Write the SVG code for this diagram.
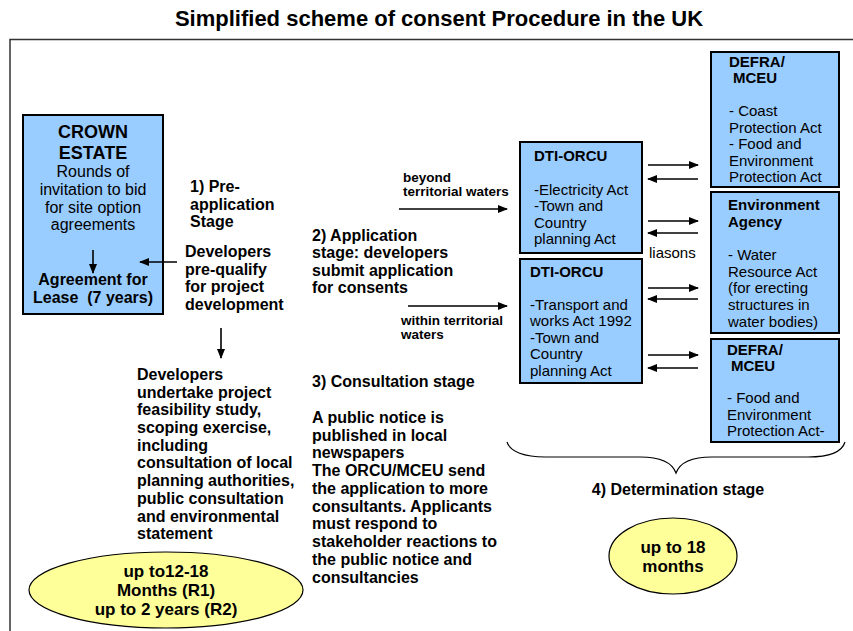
<svg xmlns="http://www.w3.org/2000/svg" width="853" height="631" viewBox="0 0 853 631">
<defs>
<marker id="ah" markerWidth="10" markerHeight="8" refX="9" refY="4" orient="auto" markerUnits="userSpaceOnUse">
<path d="M0,0 L10,4 L0,8 z" fill="#000"/>
</marker>
<style>
text{font-family:"Liberation Sans",Arial,sans-serif;fill:#000}
.b{font-weight:bold}
.t{font-size:22px;font-weight:bold}
.f16{font-size:16px}
.f15{font-size:15px}
.f13{font-size:13.5px}
.f17{font-size:17px}
.f18{font-size:18px}
.box{fill:#99CCFF;stroke:#000;stroke-width:2}
.ell{fill:#FFFF99;stroke:#000;stroke-width:1.2}
.ln{stroke:#000;stroke-width:1.6;fill:none;marker-end:url(#ah)}
</style>
</defs>
<rect width="853" height="631" fill="#fff"/>
<text class="t" x="439" y="26" text-anchor="middle">Simplified scheme of consent Procedure in the UK</text>
<path d="M10,631 V39.5 H853" fill="none" stroke="#333" stroke-width="1.5"/>

<g id="crown-estate">
<rect class="box" x="23" y="115" width="140" height="199"/>
<text class="f18 b" x="93" y="138" text-anchor="middle">CROWN</text>
<text class="f18 b" x="93" y="159" text-anchor="middle">ESTATE</text>
<text class="f16" x="93" y="177" text-anchor="middle">Rounds of</text>
<text class="f16" x="93" y="195" text-anchor="middle">invitation to bid</text>
<text class="f16" x="93" y="213" text-anchor="middle">for site option</text>
<text class="f16" x="93" y="230" text-anchor="middle">agreements</text>
<text class="f16 b" x="93" y="285" text-anchor="middle">Agreement for</text>
<text class="f16 b" x="93" y="303" text-anchor="middle" xml:space="preserve">Lease  (7 years)</text>
</g>

<g id="pre-application">
<text class="f16 b" x="190" y="192">1) Pre-</text>
<text class="f16 b" x="190" y="210">application</text>
<text class="f16 b" x="190" y="227">Stage</text>
</g>

<g id="prequalify">
<text class="f16 b" x="185" y="257">Developers</text>
<text class="f16 b" x="185" y="275">pre-qualify</text>
<text class="f16 b" x="185" y="292">for project</text>
<text class="f16 b" x="185" y="310">development</text>
</g>

<g id="feasibility">
<text class="f16 b" x="137" y="380">Developers</text>
<text class="f16 b" x="137" y="398">undertake project</text>
<text class="f16 b" x="137" y="415">feasibility study,</text>
<text class="f16 b" x="137" y="433">scoping exercise,</text>
<text class="f16 b" x="137" y="451">including</text>
<text class="f16 b" x="137" y="468">consultation of local</text>
<text class="f16 b" x="137" y="486">planning authorities,</text>
<text class="f16 b" x="137" y="504">public consultation</text>
<text class="f16 b" x="137" y="522">and environmental</text>
<text class="f16 b" x="137" y="539">statement</text>
</g>

<g id="time-r1r2">
<ellipse class="ell" cx="166" cy="590" rx="137" ry="38"/>
<text class="f17 b" x="166" y="577" text-anchor="middle">up to12-18</text>
<text class="f17 b" x="166" y="596" text-anchor="middle">Months (R1)</text>
<text class="f17 b" x="166" y="615" text-anchor="middle">up to 2 years (R2)</text>
</g>

<g id="application-stage">
<text class="f16 b" x="312" y="241">2) Application</text>
<text class="f16 b" x="312" y="258">stage: developers</text>
<text class="f16 b" x="312" y="276">submit application</text>
<text class="f16 b" x="312" y="293">for consents</text>
</g>

<g id="beyond-label">
<text class="f13 b" x="403" y="182">beyond</text>
<text class="f13 b" x="403" y="196">territorial waters</text>
</g>
<g id="within-label">
<text class="f13 b" x="401" y="325">within territorial</text>
<text class="f13 b" x="401" y="339">waters</text>
</g>

<g id="consultation">
<text class="f16 b" x="312" y="387">3) Consultation stage</text>
<text class="f16 b" x="312" y="423">A public notice is</text>
<text class="f16 b" x="312" y="441">published in local</text>
<text class="f16 b" x="312" y="458">newspapers</text>
<text class="f16 b" x="312" y="476">The ORCU/MCEU send</text>
<text class="f16 b" x="312" y="494">the application to more</text>
<text class="f16 b" x="312" y="512">consultants. Applicants</text>
<text class="f16 b" x="312" y="529">must respond to</text>
<text class="f16 b" x="312" y="547">stakeholder reactions to</text>
<text class="f16 b" x="312" y="565">the public notice and</text>
<text class="f16 b" x="312" y="583">consultancies</text>
</g>

<g id="dti-orcu-1">
<rect class="box" x="520" y="142" width="122" height="111"/>
<text class="f15 b" x="534" y="161">DTI-ORCU</text>
<text class="f15" x="534" y="195">-Electricity Act</text>
<text class="f15" x="534" y="211">-Town and</text>
<text class="f15" x="534" y="228">Country</text>
<text class="f15" x="534" y="244">planning Act</text>
</g>

<g id="dti-orcu-2">
<rect class="box" x="520" y="259" width="122" height="124"/>
<text class="f15 b" x="530" y="277">DTI-ORCU</text>
<text class="f15" x="530" y="310">-Transport and</text>
<text class="f15" x="530" y="326">works Act 1992</text>
<text class="f15" x="530" y="343">-Town and</text>
<text class="f15" x="530" y="359">Country</text>
<text class="f15" x="530" y="376">planning Act</text>
</g>

<g id="defra-mceu-1">
<rect class="box" x="711" y="52" width="128" height="135"/>
<text class="f15 b" x="729" y="67">DEFRA/</text>
<text class="f15 b" x="733" y="83">MCEU</text>
<text class="f15" x="729" y="116">- Coast</text>
<text class="f15" x="729" y="133">Protection Act</text>
<text class="f15" x="729" y="149">- Food and</text>
<text class="f15" x="729" y="166">Environment</text>
<text class="f15" x="729" y="182">Protection Act</text>
</g>

<g id="environment-agency">
<rect class="box" x="711" y="192" width="128" height="141"/>
<text class="f15 b" x="728" y="210">Environment</text>
<text class="f15 b" x="728" y="227">Agency</text>
<text class="f15" x="728" y="260">- Water</text>
<text class="f15" x="728" y="277">Resource Act</text>
<text class="f15" x="728" y="293">(for erecting</text>
<text class="f15" x="728" y="310">structures in</text>
<text class="f15" x="728" y="327">water bodies)</text>
</g>

<g id="defra-mceu-2">
<rect class="box" x="711" y="339" width="128" height="103"/>
<text class="f15 b" x="727" y="355">DEFRA/</text>
<text class="f15 b" x="731" y="371">MCEU</text>
<text class="f15" x="727" y="403">- Food and</text>
<text class="f15" x="727" y="420">Environment</text>
<text class="f15" x="727" y="436">Protection Act-</text>
</g>

<g id="liasons-label">
<text class="f15" x="649" y="258">liasons</text>
</g>

<g id="determination">
<path d="M507,442 C510,452 525,457 545,457 L640,457 C660,457 672,462 676,473 C680,462 692,457 712,457 L808,457 C828,457 842,452 845,442" fill="none" stroke="#000" stroke-width="1.2"/>
<text class="f16 b" x="678" y="495" text-anchor="middle">4) Determination stage</text>
</g>

<g id="time-determination">
<ellipse class="ell" cx="673" cy="556" rx="64" ry="38"/>
<text class="f17 b" x="673" y="553" text-anchor="middle">up to 18</text>
<text class="f17 b" x="673" y="572" text-anchor="middle">months</text>
</g>

<g id="connectors">
<line class="ln" x1="93" y1="250" x2="93" y2="273"/>
<line class="ln" x1="177" y1="262" x2="140" y2="262"/>
<line class="ln" x1="221" y1="328" x2="221" y2="358"/>
<line class="ln" x1="399" y1="209" x2="507" y2="209"/>
<line class="ln" x1="408" y1="306" x2="507" y2="306"/>
<line class="ln" x1="648" y1="165" x2="698" y2="165"/>
<line class="ln" x1="698" y1="179" x2="648" y2="179"/>
<line class="ln" x1="648" y1="221" x2="698" y2="221"/>
<line class="ln" x1="698" y1="233" x2="648" y2="233"/>
<line class="ln" x1="648" y1="288" x2="698" y2="288"/>
<line class="ln" x1="698" y1="299" x2="648" y2="299"/>
<line class="ln" x1="648" y1="355" x2="698" y2="355"/>
<line class="ln" x1="698" y1="368" x2="648" y2="368"/>
</g>
</svg>
